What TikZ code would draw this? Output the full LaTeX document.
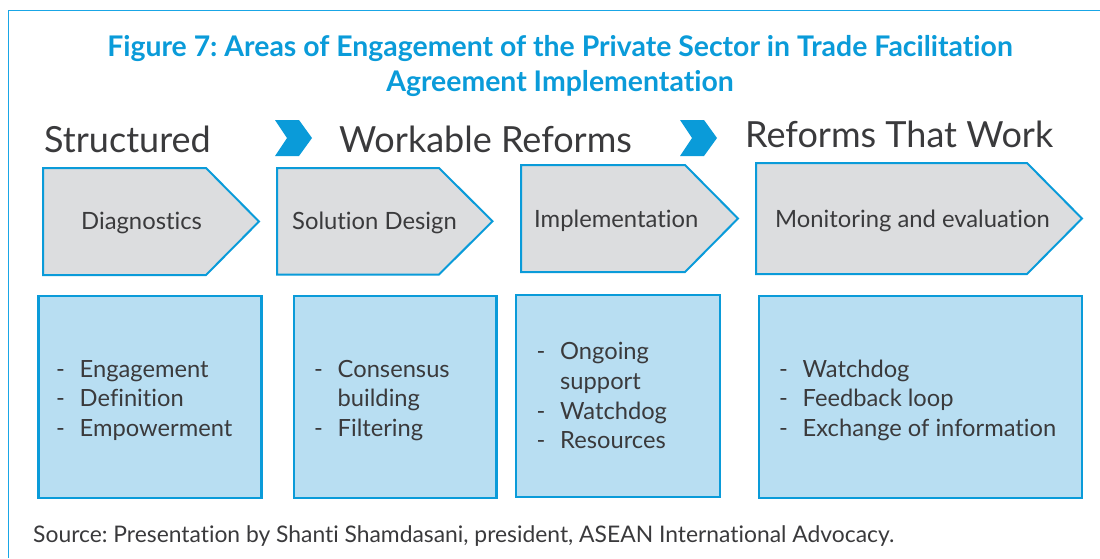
\documentclass[tikz,border=0pt]{standalone}
\usepackage{fontspec}
\setmainfont[Ligatures={NoCommon}]{Lato}
\frenchspacing
\definecolor{adbblue}{HTML}{0A9BD9}
\definecolor{framblue}{HTML}{19A6E6}
\definecolor{boxfill}{HTML}{B8DEF2}
\definecolor{pentfill}{HTML}{DCDDDF}
\definecolor{txtgray}{HTML}{3A3A3C}
\tikzset{
  pentshape/.style={draw=adbblue, fill=pentfill, line width=2pt, line join=miter},
  listbox/.style={draw=adbblue, fill=boxfill, line width=2.2pt},
  chev/.style={fill=adbblue, draw=none},
  headtxt/.style={anchor=base west, inner sep=0pt, text=txtgray, font=\fontsize{36}{40}\selectfont},
  penttxt/.style={anchor=base west, inner sep=0pt, text=txtgray, font=\fontsize{23.8}{28}\selectfont},
  listtxt/.style={anchor=base west, inner sep=0pt, text=txtgray, font=\fontsize{23.7}{29.8}\selectfont},
  titletxt/.style={anchor=base, inner sep=0pt, text=adbblue, font=\bfseries\fontsize{28.4}{32}\selectfont},
  srctxt/.style={anchor=base west, inner sep=0pt, text=txtgray, font=\fontsize{22.85}{26}\selectfont}
}
\newcommand{\mylist}[1]{\begin{tabular}[t]{@{}p{23.5pt}@{}l@{}}#1\end{tabular}}
\begin{document}
\begin{tikzpicture}[x=1pt,y=-1pt]
\useasboundingbox (0,0) rectangle (1100,558);
% frame
\coordinate (fr1) at (8.5,558);
\coordinate (fr2) at (8.5,10.5);
\coordinate (fr3) at (1100,10.5);
\draw[framblue, line width=1.6pt] (fr1) -- (fr2) -- (fr3);
% title
\node[titletxt] (title1) at (560,56) {Figure 7: Areas of Engagement of the Private Sector in Trade Facilitation};
\node[titletxt] (title2) at (560,91) {Agreement Implementation};
% headers
\node[headtxt] (h1) at (44,152) {Structured};
\node[headtxt] (h2) at (339,152) {Workable Reforms};
\node[headtxt] (h3) at (745,147) {Reforms That Work};
% chevrons
\fill[chev] (275,120) -- (299,120) -- (312,138) -- (299,156) -- (275,156) -- (287,138) -- cycle;
\fill[chev] (680,120) -- (704,120) -- (717,138) -- (704,156) -- (680,156) -- (692,138) -- cycle;
% pentagons
\draw[pentshape] (43,168) -- (206,168) -- (259,221.5) -- (206,275) -- (43,275) -- cycle;
\draw[pentshape] (277,168) -- (439,168) -- (492.5,221.25) -- (439,274.5) -- (277,274.5) -- cycle;
\draw[pentshape] (521,165) -- (685,165) -- (738,218.5) -- (685,272) -- (521,272) -- cycle;
\draw[pentshape] (756,163) -- (1027,163) -- (1082,218.5) -- (1027,274) -- (756,274) -- cycle;
\node[penttxt] (p1) at (81,229) {Diagnostics};
\node[penttxt] (p2) at (292,229) {Solution Design};
\node[penttxt] (p3) at (534,227) {Implementation};
\node[penttxt] (p4) at (775,227) {Monitoring and evaluation};
% boxes
\draw[listbox] (38.5,296) rectangle (261.5,498);
\draw[listbox] (294,296) rectangle (496.5,498);
\draw[listbox] (516,295) rectangle (720,497);
\draw[listbox] (759,296) rectangle (1082,498);
\node[listtxt] (l1) at (56,377) {\mylist{-&Engagement\\-&Definition\\-&Empowerment}};
\node[listtxt] (l2) at (314,377) {\mylist{-&Consensus\\&building\\-&Filtering}};
\node[listtxt] (l3) at (536.5,359.5) {\mylist{-&Ongoing\\&support\\-&Watchdog\\-&Resources}};
\node[listtxt] (l4) at (779,377) {\mylist{-&Watchdog\\-&Feedback loop\\-&Exchange of information}};
% source
\node[srctxt] (src) at (33,542.5) {Source: Presentation by Shanti Shamdasani, president, ASEAN International Advocacy.};
\end{tikzpicture}
\end{document}
